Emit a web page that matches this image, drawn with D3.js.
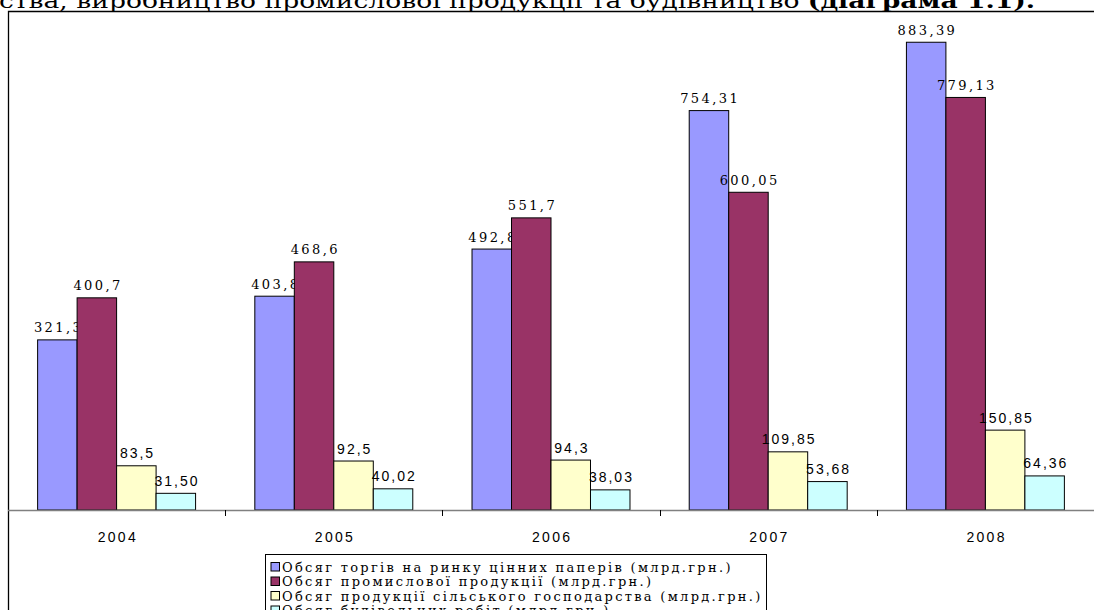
<!DOCTYPE html>
<html>
<head>
<meta charset="utf-8">
<script src="https://cdn.jsdelivr.net/npm/d3@7"></script>
<style>
    html, body { margin: 0; padding: 0; background: #fff; overflow: hidden; }
    svg { display: block; }
</style>
</head>
<body>
<svg id="chart"></svg>
<script>
    // years on the category axis
    var years = ["2004", "2005", "2006", "2007", "2008"];

    // series (values in млрд.грн.)
    var securities = [321.3, 403.8, 492.8, 754.31, 883.39];
    var industry = [400.7, 468.6, 551.7, 600.05, 779.13];
    var agriculture = [83.5, 92.5, 94.3, 109.85, 150.85];
    var construction = [31.50, 40.02, 38.03, 53.68, 64.36];

    // labels as printed on the chart
    var securitiesLabels = ["321,3", "403,8", "492,8", "754,31", "883,39"];
    var industryLabels = ["400,7", "468,6", "551,7", "600,05", "779,13"];
    var agricultureLabels = ["83,5", "92,5", "94,3", "109,85", "150,85"];
    var constructionLabels = ["31,50", "40,02", "38,03", "53,68", "64,36"];

    var seriesNames = [
        "Обсяг торгів на ринку цінних паперів (млрд.грн.)",
        "Обсяг промислової продукції (млрд.грн.)",
        "Обсяг продукції сільського господарства (млрд.грн.)",
        "Обсяг будівельних робіт (млрд.грн.)"
    ];
    var seriesColors = ["#9999FF", "#993366", "#FFFFCC", "#CCFFFF"];

    var series = [
        {name: seriesNames[0], values: securities, labels: securitiesLabels, serif: true},
        {name: seriesNames[1], values: industry, labels: industryLabels, serif: true},
        {name: seriesNames[2], values: agriculture, labels: agricultureLabels, serif: false},
        {name: seriesNames[3], values: construction, labels: constructionLabels, serif: false}
    ];

    var width = 1094, height = 610;
    var plotLeft = 8, plotTop = 11, baseY = 510;

    var svg = d3.select("#chart")
        .attr("width", width)
        .attr("height", height);

    // title line of the document, cut at the top edge
    var title = svg.append("text")
        .attr("x", -1)
        .attr("y", 7.5)
        .attr("textLength", 1036)
        .attr("lengthAdjust", "spacingAndGlyphs")
        .style("font-family", "'DejaVu Serif', serif")
        .style("font-size", "21px")
        .style("fill", "#000");
    title.append("tspan").text("ства, виробництво промислової продукції та будівництво ");
    title.append("tspan").style("font-weight", "bold").text("(діаграма 1.1).");

    // chart frame (left and top edges)
    svg.append("path")
        .attr("d", "M" + (plotLeft + 0.5) + "," + height + "V" + (plotTop + 0.5) + "H" + width)
        .style("fill", "none")
        .style("stroke", "#000")
        .style("stroke-width", 1.3);

    var x0 = d3.scaleBand()
        .domain(years)
        .range([plotLeft, width])
        .paddingInner(0)
        .paddingOuter(0);

    var x1 = d3.scaleBand()
        .domain(d3.range(series.length))
        .range([0, x0.bandwidth()])
        .paddingInner(0)
        .paddingOuter(0.75);

    var y = d3.scaleLinear()
        .domain([0, 1000])
        .range([baseY, baseY - 529.5]);

    // bars
    var groups = svg.append("g").selectAll("g")
        .data(series)
        .enter().append("g");

    groups.selectAll("rect")
        .data(function(s, i) {
            return s.values.map(function(v, j) { return {v: v, year: years[j], s: i}; });
        })
        .enter().append("rect")
        .attr("x", function(d) { return x0(d.year) + x1(d.s); })
        .attr("y", function(d) { return y(d.v); })
        .attr("width", x1.bandwidth())
        .attr("height", function(d) { return baseY - y(d.v); })
        .style("fill", function(d) { return seriesColors[d.s]; })
        .style("stroke", "#000")
        .style("stroke-width", 1);

    // value labels (serif for the first two series, sans for the others)
    groups.selectAll("text")
        .data(function(s, i) {
            return s.values.map(function(v, j) {
                return {v: v, year: years[j], s: i, label: s.labels[j], serif: s.serif};
            });
        })
        .enter().append("text")
        .attr("x", function(d) { return x0(d.year) + x1(d.s) + x1.bandwidth() / 2 + 1.2; })
        .attr("y", function(d) { return y(d.v) - 7.5; })
        .attr("text-anchor", "middle")
        .style("font-family", function(d) { return d.serif ? "'DejaVu Serif', serif" : "'Liberation Sans', Arial, sans-serif"; })
        .style("font-size", function(d) { return d.serif ? "13px" : "14px"; })
        .style("letter-spacing", function(d) { return d.serif ? "2.4px" : "2px"; })
        .style("fill", "#000")
        .text(function(d) { return d.label; });

    // category axis
    var xAxis = d3.axisBottom(x0).tickSize(0).tickPadding(0);
    var axisG = svg.append("g")
        .attr("transform", "translate(0," + baseY + ")")
        .call(xAxis);
    axisG.select(".domain").remove();
    axisG.selectAll("text")
        .attr("y", 32)
        .attr("dy", 0)
        .attr("dx", 1.2)
        .style("font-family", "'Liberation Sans', Arial, sans-serif")
        .style("font-size", "14px")
        .style("letter-spacing", "2.3px")
        .style("fill", "#000");

    axisG.append("line")
        .attr("x1", plotLeft)
        .attr("x2", width)
        .attr("y1", 0.5)
        .attr("y2", 0.5)
        .style("stroke", "#808080")
        .style("stroke-width", 1.3);

    // tick marks between categories
    axisG.selectAll(".sep")
        .data(years.slice(1))
        .enter().append("line")
        .attr("class", "sep")
        .attr("x1", function(d) { return Math.round(x0(d)) + 0.5; })
        .attr("x2", function(d) { return Math.round(x0(d)) + 0.5; })
        .attr("y1", 0)
        .attr("y2", 6)
        .style("stroke", "#000")
        .style("stroke-width", 1);

    // legend, cut off at the bottom
    var legendX = 265, legendY = 554, rowH = 14.5;
    var legend = svg.append("g");
    legend.append("rect")
        .attr("x", legendX + 0.5)
        .attr("y", legendY + 0.5)
        .attr("width", 501)
        .attr("height", 80)
        .style("fill", "#fff")
        .style("stroke", "#000")
        .style("stroke-width", 1);

    var rows = legend.selectAll("g.row")
        .data(series)
        .enter().append("g")
        .attr("class", "row")
        .attr("transform", function(d, i) { return "translate(" + legendX + "," + (legendY + 13 + i * rowH) + ")"; });

    rows.append("rect")
        .attr("x", 6)
        .attr("y", -4.5)
        .attr("width", 8.5)
        .attr("height", 8.5)
        .style("fill", function(d, i) { return seriesColors[i]; })
        .style("stroke", "#000")
        .style("stroke-width", 1);

    rows.append("text")
        .attr("x", 17)
        .attr("y", 4.5)
        .style("font-family", "'DejaVu Serif', serif")
        .style("font-size", "13px")
        .style("letter-spacing", "2.3px")
        .style("fill", "#000")
        .text(function(d) { return d.name; });
</script>
</body>
</html>
